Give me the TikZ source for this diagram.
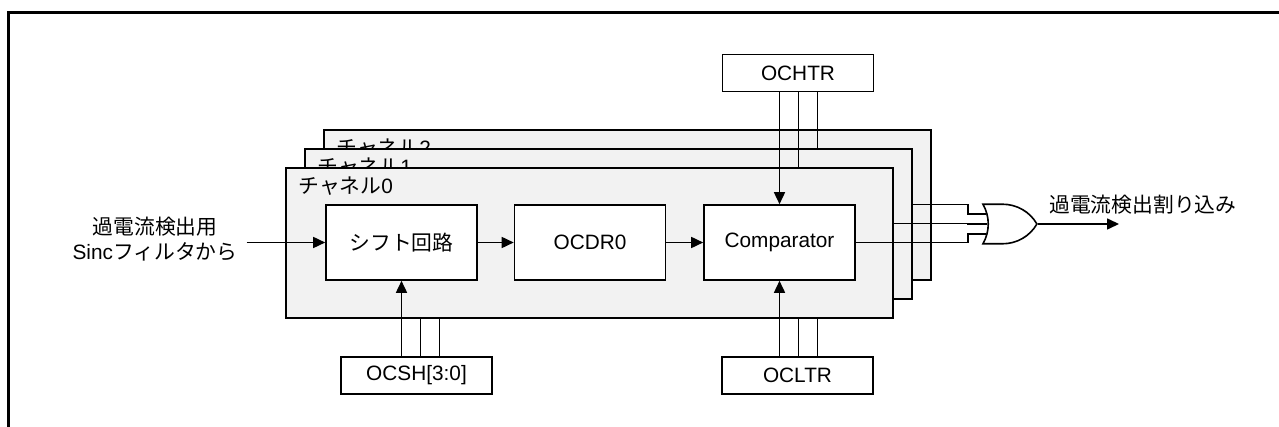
\documentclass[tikz,border=0pt]{standalone}
\usepackage{fontspec}
\setmainfont{Liberation Sans}
\newfontfamily\jp{Noto Sans CJK JP}
\usetikzlibrary{arrows.meta,shapes.gates.logic.US}
\definecolor{chgray}{RGB}{242,242,242}
\tikzset{
  wire/.style={line width=1.6pt},
  chan/.style={draw,fill=chgray,line width=1.6pt,minimum width=607pt,minimum height=150pt,inner sep=0pt},
  blk/.style={draw,fill=white,line width=1.6pt,minimum width=151pt,minimum height=75pt,inner sep=0pt},
  regbox/.style={draw,fill=white,line width=1.6pt,minimum width=151pt,minimum height=37pt,inner sep=0pt},
}
\begin{document}
\begin{tikzpicture}[x=1pt,y=-1pt,>={Triangle[length=12pt,width=11pt]},font=\fontsize{20.8}{25}\selectfont]
\useasboundingbox (0,0) rectangle (1279,427);
% frame (only top and left edges show)
\draw[line width=3pt] (8,427) -- (8,13) -- (1279,13);

% registers
\node[regbox] (ochtr) at (798,73) {OCHTR};
\node[regbox] (ocltr) at (797.5,375.5) {OCLTR};
\node[regbox] (ocsh) at (416.5,375.5) {OCSH[3:0]};

% OR gate
\node[or gate US,draw,line width=1.6pt,logic gate inputs=nnn,minimum width=54pt,minimum height=39pt] (org) at (1006,224) {};
\coordinate (stp) at (968,0);

% channels, back to front
\foreach \k in {2,1,0}{
  \begin{scope}[shift={(19*\k,-19*\k)}]
    \node[chan] (ch\k) at (589.5,243) {};
    \node[anchor=west,inner sep=0pt] at ([xshift=13pt,yshift=-19pt]ch\k.north west) {{\jp チャネル}\k};
    \node[blk] (sft\k) at (401.5,242.5) {\jp シフト回路};
    \node[blk] (ocdr\k) at (590,242.5) {OCDR\k};
    \node[blk] (cmp\k) at (779.5,242.5) {Comparator};
  \end{scope}
  \draw[wire,->] (sft\k) -- (ocdr\k);
  \draw[wire,->] (ocdr\k) -- (cmp\k);
  \draw[wire,->] (cmp\k.north |- ochtr.south) -- (cmp\k.north);
  \draw[wire,->] (cmp\k.south |- ocltr.north) -- (cmp\k.south);
  \draw[wire,->] (sft\k.south |- ocsh.north) -- (sft\k.south);
  \pgfmathtruncatemacro\j{3-\k}
  \draw[wire] (cmp\k.east) -| (stp |- org.input \j) -- (org.input \j);
}

% input and output
\node[align=center,inner sep=9pt] (inlbl) at (155,239) {{\jp 過電流検出用}\\Sinc{\jp フィルタから}};
\draw[wire,->] (inlbl.east |- sft0) -- (sft0);
\coordinate (outend) at (1119,224);
\draw[wire,->] (org.output) -- (outend);
\node[anchor=west,inner sep=0pt] (outlbl) at (1049,205) {\jp 過電流検出割り込み};
\end{tikzpicture}
\end{document}
